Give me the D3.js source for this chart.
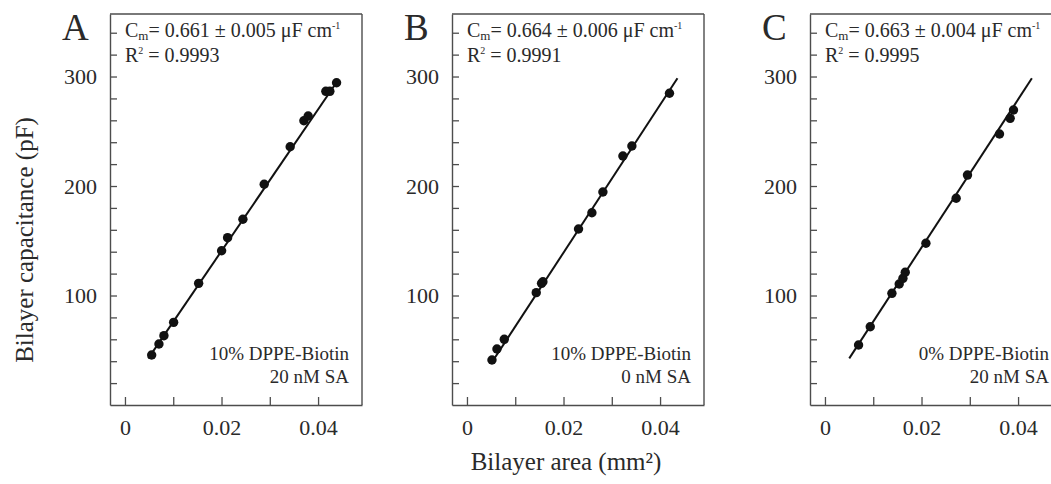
<!DOCTYPE html>
<html>
<head>
<meta charset="utf-8">
<script src="https://cdn.jsdelivr.net/npm/d3@7"></script>
<style>
  html, body { margin: 0; padding: 0; background: #fff; }
  svg { display: block; }
  svg text { font-family: "Liberation Serif", "DejaVu Serif", serif !important; fill: #2a2a2a; }
</style>
</head>
<body>
<svg id="chart" width="1051" height="484" font-family="Liberation Serif, serif"></svg>
<script>
// ---------------- data ----------------
const panelLetters = ["A", "B", "C"];
const cmValues = ["0.661 ± 0.005", "0.664 ± 0.006", "0.663 ± 0.004"];
const r2Values = ["0.9993", "0.9991", "0.9995"];
const biotinLabels = ["10% DPPE-Biotin", "10% DPPE-Biotin", "0% DPPE-Biotin"];
const saLabels = ["20 nM SA", "0 nM SA", "20 nM SA"];

// Bilayer area (mm²) and capacitance (pF)
const areaA = [0.00553, 0.00704, 0.00807, 0.01008, 0.01526, 0.02002, 0.02126, 0.02443, 0.02884, 0.03422, 0.03706, 0.03795, 0.04161, 0.04244, 0.04383];
const capA  = [45.7, 55.7, 63.3, 75.5, 111.1, 140.9, 152.8, 169.6, 201.6, 235.9, 259.6, 263.9, 286.5, 286.5, 294.3];
const areaB = [0.00518, 0.00621, 0.00773, 0.01435, 0.01545, 0.01573, 0.02311, 0.02588, 0.02816, 0.03230, 0.03416, 0.04195];
const capB  = [41.1, 51.1, 60.0, 102.6, 111.1, 112.6, 160.7, 175.6, 194.5, 227.4, 236.5, 284.7];
const areaC = [0.00696, 0.00938, 0.01387, 0.01538, 0.01615, 0.01663, 0.02091, 0.02718, 0.02952, 0.03615, 0.03836, 0.03905];
const capC  = [54.8, 71.5, 102.0, 110.5, 115.7, 121.2, 147.7, 188.8, 210.0, 247.5, 261.8, 269.4];

// linear fit line end points (area, capacitance)
const fitAreaA = [0.00483, 0.04416], fitCapA = [42.6, 296.8];
const fitAreaB = [0.00503, 0.04360], fitCapB = [38.1, 298.4];
const fitAreaC = [0.00503, 0.04286], fitCapC = [42.6, 298.4];

const xTicks = [0, 0.01, 0.02, 0.03, 0.04];
const xTickLabels = ["0", "", "0.02", "", "0.04"];
const yTicks = [20, 40, 60, 80, 100, 120, 140, 160, 180, 200, 220, 240, 260, 280, 300, 320, 340];
const yLabelTicks = [100, 200, 300];

const series = [
  { area: areaA, cap: capA, fitX: fitAreaA, fitY: fitCapA },
  { area: areaB, cap: capB, fitX: fitAreaB, fitY: fitCapB },
  { area: areaC, cap: capC, fitX: fitAreaC, fitY: fitCapC }
];

// ---------------- layout ----------------
const FONT = '"Liberation Serif", serif';
const svg = d3.select("#chart");
const panelLeft = [110, 452, 810];
const panelW = 252, plotTop = 14, plotBottom = 405;
const axisColor = "#4d4d4d";

const y = d3.scaleLinear().domain([0, 357.1]).range([plotBottom, plotTop]);

panelLetters.forEach((letter, i) => {
  const L = panelLeft[i];
  const x = d3.scaleLinear().domain([-0.0031, 0.0491]).range([L, L + panelW]);
  const g = svg.append("g");
  const s = series[i];

  // box top & right
  g.append("line").attr("x1", L).attr("x2", L + panelW).attr("y1", plotTop).attr("y2", plotTop)
    .attr("stroke", axisColor).attr("stroke-width", 1.4);
  g.append("line").attr("x1", L + panelW).attr("x2", L + panelW).attr("y1", plotTop).attr("y2", plotBottom)
    .attr("stroke", axisColor).attr("stroke-width", 1.4);

  // axes
  const yAxis = d3.axisLeft(y).tickValues(yTicks).tickSize(-7).tickSizeOuter(0).tickPadding(13)
    .tickFormat(d => yLabelTicks.includes(d) ? d : "");
  const ya = g.append("g").attr("transform", `translate(${L},0)`).call(yAxis);
  const xAxis = d3.axisBottom(x).tickValues(xTicks).tickSize(-8).tickSizeOuter(0).tickPadding(14)
    .tickFormat((d, k) => xTickLabels[k]);
  const xa = g.append("g").attr("transform", `translate(0,${plotBottom})`).call(xAxis);
  [ya, xa].forEach(a => {
    a.attr("font-family", FONT);
    a.select(".domain").attr("stroke", axisColor).attr("stroke-width", 1.4);
    a.selectAll(".tick line").attr("stroke", axisColor).attr("stroke-width", 1.3);
    a.selectAll(".tick text").attr("font-size", 22).attr("fill", "#2a2a2a")
      .style("font-family", FONT);
  });

  // fit line
  g.append("line")
    .attr("x1", x(s.fitX[0])).attr("y1", y(s.fitY[0]))
    .attr("x2", x(s.fitX[1])).attr("y2", y(s.fitY[1]))
    .attr("stroke", "#111").attr("stroke-width", 2);

  // points
  g.selectAll("circle.pt").data(s.area.map((a, k) => [a, s.cap[k]])).enter()
    .append("circle").attr("class", "pt")
    .attr("cx", d => x(d[0])).attr("cy", d => y(d[1])).attr("r", 4.7)
    .attr("fill", "#111");

  // panel letter
  g.append("text").attr("x", L - 48).attr("y", 40).attr("font-size", 37).style("font-family", FONT).text(letter);

  // annotations
  const t1 = g.append("text").attr("x", L + 15).attr("y", 37).attr("font-size", 20).style("font-family", FONT);
  t1.append("tspan").text("C");
  t1.append("tspan").attr("font-size", 13).attr("dy", 3).text("m");
  t1.append("tspan").attr("dy", -3).text("= " + cmValues[i] + " μF cm");
  t1.append("tspan").attr("font-size", 10).attr("dy", -8).text("-1");

  const t2 = g.append("text").attr("x", L + 15).attr("y", 62).attr("font-size", 20).style("font-family", FONT);
  t2.append("tspan").text("R");
  t2.append("tspan").attr("font-size", 10).attr("dy", -8).text("2");
  t2.append("tspan").attr("dy", 8).text(" = " + r2Values[i]);

  g.append("text").attr("x", L + 239).attr("y", 360).attr("font-size", 19).style("font-family", FONT)
    .attr("text-anchor", "end").text(biotinLabels[i]);
  g.append("text").attr("x", L + 239).attr("y", 383).attr("font-size", 19).style("font-family", FONT)
    .attr("text-anchor", "end").text(saLabels[i]);
});

// axis titles
svg.append("text").attr("transform", "translate(33,240) rotate(-90)").style("font-family", FONT)
  .attr("text-anchor", "middle").attr("font-size", 25).text("Bilayer capacitance (pF)");
svg.append("text").attr("x", 566).attr("y", 470).style("font-family", FONT)
  .attr("text-anchor", "middle").attr("font-size", 25).text("Bilayer area (mm²)");
</script>
</body>
</html>
